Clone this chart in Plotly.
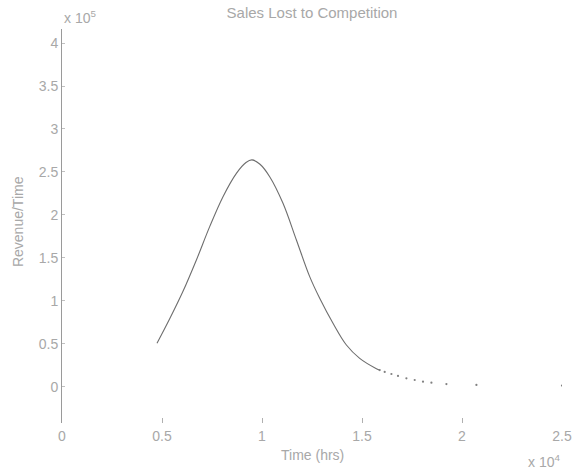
import plotly.graph_objects as go

# Main (dense) part of the curve
curve_t = [4750, 5385, 6050, 6720, 7385, 8050, 8720, 9200, 9500, 9900, 10385,
           11050, 11720, 12385, 12885, 13550, 14220, 14885, 15720, 15885]
curve_y = [50500, 79000, 111000, 147500, 186300, 221200, 248400, 261000, 264000,
           259000, 244500, 213500, 170800, 128100, 102900, 73800, 48500, 33000,
           21000, 19300]

# Sparse tail points (shown as dots)
tail_t = [15885, 16135, 16470, 16800, 17220, 17635, 18050, 18470, 19220,
          20720, 25000]
tail_y = [19300, 17200, 14800, 12500, 9800, 7800, 5800, 4700, 3100,
          2100, 1300]

x_tickvals = [0, 5000, 10000, 15000, 20000, 25000]
x_ticktext = ["0", "0.5", "1", "1.5", "2", "2.5"]
y_tickvals = [0, 50000, 100000, 150000, 200000, 250000, 300000, 350000, 400000]
y_ticktext = ["0", "0.5", "1", "1.5", "2", "2.5", "3", "3.5", "4"]

TXT = "#a8a8a8"
FONT = "Liberation Sans"
FS = 14

fig = go.Figure()
fig.add_trace(go.Scatter(x=curve_t, y=curve_y, mode="lines",
                         line=dict(color="#6e6e6e", width=1.1, shape="spline",
                                   smoothing=1.0),
                         showlegend=False, hoverinfo="skip"))
fig.add_trace(go.Scatter(x=tail_t, y=tail_y, mode="markers",
                         marker=dict(color="#808080", size=2.2),
                         showlegend=False, hoverinfo="skip"))

fig.update_layout(
    width=574, height=475,
    margin=dict(l=62, r=12, t=29, b=52, autoexpand=False),
    paper_bgcolor="white", plot_bgcolor="white",
    font=dict(family=FONT, size=FS, color=TXT),
    title=dict(text="Sales Lost to Competition", x=0.5, xref="paper",
               y=1 - 12.5 / 475, yref="container", yanchor="middle",
               font=dict(family=FONT, size=15, color=TXT)),
    xaxis=dict(range=[0, 25000], tickvals=x_tickvals, ticktext=x_ticktext,
               showgrid=False, zeroline=False, showline=False, automargin=False,
               ticks="inside", ticklen=5, tickcolor="#b0b0b0", tickwidth=1,
               ticklabelstandoff=3,
               tickfont=dict(family=FONT, size=FS, color=TXT)),
    yaxis=dict(range=[-42260, 416400], tickvals=y_tickvals, ticktext=y_ticktext,
               showgrid=False, zeroline=False, showline=True, linecolor="#9a9a9a",
               linewidth=1, ticks="inside", ticklen=3, tickcolor="#c0c0c0",
               tickwidth=1, automargin=False,
               tickfont=dict(family=FONT, size=FS, color=TXT)),
    annotations=[
        dict(text="Time (hrs)", xref="paper", yref="paper", x=0.5, y=-0.081,
             xanchor="center", yanchor="middle", showarrow=False,
             font=dict(family=FONT, size=FS, color=TXT)),
        dict(text="Revenue/Time", xref="paper", yref="paper", x=-0.088, y=0.51,
             xanchor="center", yanchor="middle", textangle=-90, showarrow=False,
             font=dict(family=FONT, size=FS, color=TXT)),
        dict(text="x 10<sup>5</sup>", xref="paper", yref="paper", x=0, y=1.03,
             xanchor="left", yanchor="middle", showarrow=False,
             font=dict(family=FONT, size=FS, color=TXT)),
        dict(text="x 10<sup>4</sup>", xref="paper", yref="paper", x=1.0, y=-0.097,
             xanchor="right", yanchor="middle", showarrow=False,
             font=dict(family=FONT, size=FS, color=TXT)),
    ],
)

fig.write_html("out.html",
               config={"displayModeBar": False, "staticPlot": True},
               post_script="document.body.style.margin='0';"
                           "document.body.style.padding='0';")
